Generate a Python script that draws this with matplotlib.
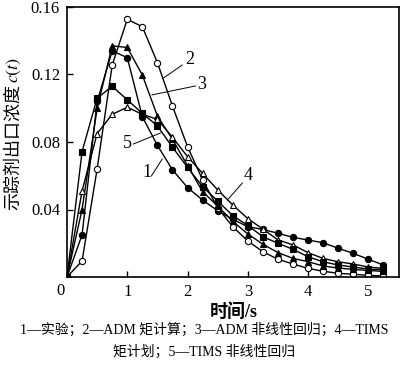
import numpy as np
import matplotlib
matplotlib.use('Agg')
import matplotlib.pyplot as plt

plt.rcParams['font.family'] = ['Liberation Serif', 'Noto Sans CJK SC']
plt.rcParams['mathtext.fontset'] = 'stix'

# time points (s)
t = [0, 0.25, 0.5, 0.75, 1.0, 1.25, 1.5, 1.75, 2.0, 2.25, 2.5,
     2.75, 3.0, 3.25, 3.5, 3.75, 4.0, 4.25, 4.5, 4.75, 5.0, 5.25]

# 1 - experiment (filled circle)
c_exp = [0, 0.025, 0.104, 0.134, 0.130, 0.095, 0.078, 0.0635, 0.053, 0.0456, 0.0393,
         0.0342, 0.0298, 0.0282, 0.0259, 0.0235, 0.0219, 0.0203, 0.017, 0.014, 0.0105, 0.0071]
# 2 - ADM moment (open circle)
c_adm_mom = [0, 0.0095, 0.064, 0.1256, 0.1527, 0.1483, 0.127, 0.1013, 0.0772, 0.0575, 0.041,
             0.0298, 0.0213, 0.015, 0.0105, 0.0077, 0.0051, 0.0034, 0.0022, 0.0016, 0.001, 0.0006]
# 3 - ADM nonlinear regression (filled triangle)
c_adm_nl = [0, 0.040, 0.100, 0.137, 0.136, 0.1197, 0.0954, 0.0816, 0.066, 0.0506, 0.042,
            0.033, 0.0255, 0.0194, 0.0145, 0.011, 0.0091, 0.0065, 0.0053, 0.0045, 0.0039, 0.0033]
# 4 - TIMS moment (open triangle)
c_tims_mom = [0, 0.051, 0.085, 0.0964, 0.1006, 0.0964, 0.0934, 0.0828, 0.0713, 0.0614, 0.0516,
              0.0427, 0.0346, 0.0284, 0.022, 0.019, 0.0144, 0.011, 0.009, 0.0077, 0.0059, 0.0051]
# 5 - TIMS nonlinear regression (filled square)
c_tims_nl = [0, 0.0743, 0.106, 0.113, 0.105, 0.097, 0.0895, 0.0769, 0.065, 0.0535, 0.045,
             0.0364, 0.0305, 0.0239, 0.020, 0.0164, 0.012, 0.009, 0.0071, 0.0059, 0.0047, 0.0043]

xticks = [1, 2, 3, 4, 5]
yticks = [0.04, 0.08, 0.12, 0.16]

fig = plt.figure(figsize=(4.0, 3.66), dpi=100)
ax = fig.add_axes([67 / 400, 1 - 277 / 366, (398.5 - 67) / 400, (277 - 7) / 366])

kw = dict(color='black', lw=1.0, ms=4.5, mec='black', mew=0.8)
ax.plot(t, c_exp, marker='o', mfc='black', **kw)
ax.plot(t, c_adm_mom, marker='o', mfc='white', **kw)
ax.plot(t, c_adm_nl, marker='^', mfc='black', **kw)
ax.plot(t, c_tims_mom, marker='^', mfc='white', **kw)
ax.plot(t, c_tims_nl, marker='s', mfc='black', ms=4.0, color='black', lw=1.0, mec='black', mew=0.8)

ax.set_xlim(0, 5.5)
ax.set_ylim(0, 0.16)
ax.set_xticks(xticks)
ax.set_xticklabels([str(v) for v in xticks])
ax.set_yticks(yticks)
ax.set_yticklabels(['0.04', '0.08', '0.12', '0.16'])
ax.tick_params(direction='in', length=4, width=1, labelsize=12, pad=5)
for s in ax.spines.values():
    s.set_linewidth(1.2)
ax.text(-0.11, -0.0035, '0', ha='center', va='top', fontsize=12)

# curve labels with leader lines
labels = [('2', (2.03, 0.129), (1.91, 0.1256), (1.60, 0.1179)),
          ('3', (2.24, 0.114), (2.13, 0.1132), (1.41, 0.1079)),
          ('5', (1.0, 0.0794), (1.10, 0.0788), (1.55, 0.0853)),
          ('1', (1.32, 0.0622), (1.40, 0.0599), (1.58, 0.0699)),
          ('4', (3.0, 0.0604), (2.91, 0.0557), (2.66, 0.0456))]
for txt, pos, p0, p1 in labels:
    ax.plot([p0[0], p1[0]], [p0[1], p1[1]], color='black', lw=0.7)
    ax.text(pos[0], pos[1], txt, ha='center', va='center', fontsize=13)

# y label: Chinese part plus italic c(t)
ylab = fig.text(14 / 400, 1 - 210 / 366, '示踪剂出口浓度', rotation=90,
                ha='center', va='bottom', fontsize=13)
fig.canvas.draw()
bb = ylab.get_window_extent()
fig.text(14 / 400, bb.y1 / fig.bbox.height + 0.004, '$c(t)$', rotation=90,
         ha='center', va='bottom', fontsize=13)

fig.text(0.585, 1 - 312 / 366, '时间/s', ha='center', va='center', fontsize=13, fontweight='bold')
fig.text(0.51, 1 - 330 / 366, '1—实验；2—ADM 矩计算；3—ADM 非线性回归；4—TIMS',
         ha='center', va='center', fontsize=10)
fig.text(0.51, 1 - 352 / 366, '矩计划；5—TIMS 非线性回归', ha='center', va='center', fontsize=10)

fig.savefig('out.png', dpi=100)
